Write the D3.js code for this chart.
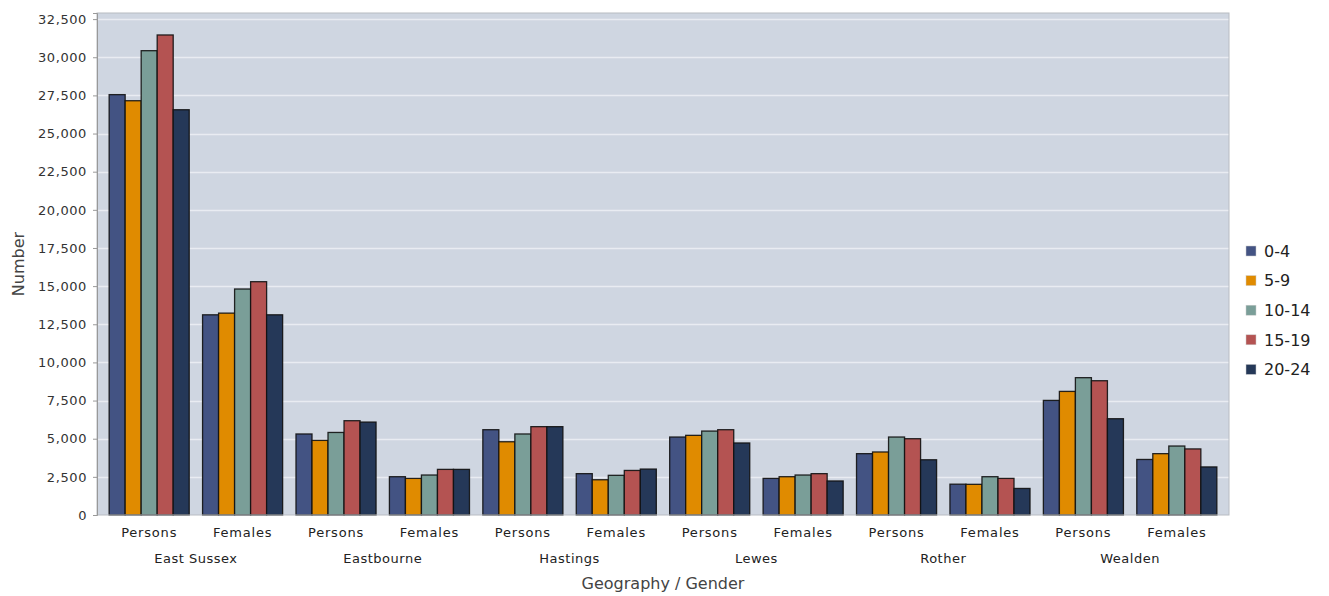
<!DOCTYPE html>
<html>
<head>
<meta charset="utf-8">
<script src="https://cdn.jsdelivr.net/npm/d3@7"></script>
<style>
  html, body { margin: 0; padding: 0; background: #ffffff; }
  svg { display: block; font-family: "DejaVu Sans", sans-serif; }
</style>
</head>
<body>
<svg id="chart" width="1329" height="596"></svg>
<script>
// ---- Data ----
const regions = ["East Sussex", "Eastbourne", "Hastings", "Lewes", "Rother", "Wealden"];
const genders = ["Persons", "Females"];
const ageGroups = ["0-4", "5-9", "10-14", "15-19", "20-24"];
const colors = ["#435383", "#e08b00", "#7a9e98", "#b45352", "#253858"];
const yTicks = [0, 2500, 5000, 7500, 10000, 12500, 15000, 17500, 20000, 22500, 25000, 27500, 30000, 32500];

// values per age group, order: region x gender (Persons, Females)
const age0_4   = [27550, 13120, 5310, 2510, 5590, 2710, 5110, 2400, 4020, 2020, 7510, 3640];
const age5_9   = [27150, 13230, 4890, 2400, 4800, 2310, 5220, 2510, 4130, 2010, 8100, 4020];
const age10_14 = [30430, 14810, 5410, 2620, 5310, 2600, 5500, 2620, 5110, 2510, 9000, 4520];
const age15_19 = [31460, 15290, 6180, 2990, 5790, 2920, 5590, 2710, 5000, 2400, 8800, 4330];
const age20_24 = [26560, 13120, 6090, 2990, 5790, 3010, 4720, 2230, 3620, 1740, 6310, 3150];
const series = [age0_4, age5_9, age10_14, age15_19, age20_24];

// ---- Layout ----
const svg = d3.select("#chart");
const plotLeft = 97, plotRight = 1229, plotTop = 13, plotBottom = 515;

const groups = [];
regions.forEach(r => genders.forEach(g => groups.push({ region: r, gender: g, key: r + "|" + g })));

const x0 = d3.scaleBand().domain(groups.map(d => d.key))
  .range([plotLeft, plotRight]).paddingInner(0.143).paddingOuter(0.13);
const x1 = d3.scaleBand().domain(ageGroups).range([0, x0.bandwidth()]).padding(0);
const y = d3.scaleLinear().domain([0, 32900]).range([plotBottom, plotTop]);

// plot background
svg.append("rect").attr("x", plotLeft).attr("y", plotTop)
  .attr("width", plotRight - plotLeft).attr("height", plotBottom - plotTop)
  .attr("fill", "#cfd6e1");

// gridlines
svg.append("g").selectAll("line").data(yTicks.filter(t => t > 0)).join("line")
  .attr("x1", plotLeft).attr("x2", plotRight)
  .attr("y1", d => Math.round(y(d)) + 0.5).attr("y2", d => Math.round(y(d)) + 0.5)
  .attr("stroke", "#e9ecf2").attr("stroke-width", 1.3);

// bars
const gBars = svg.append("g");
groups.forEach((grp, gi) => {
  const g = gBars.append("g").attr("transform", `translate(${x0(grp.key)},0)`);
  g.selectAll("rect").data(ageGroups.map((a, ai) => ({ a, ai, v: series[ai][gi] }))).join("rect")
    .attr("x", d => x1(d.a))
    .attr("y", d => y(d.v))
    .attr("width", x1.bandwidth())
    .attr("height", d => plotBottom - y(d.v))
    .attr("fill", d => colors[d.ai])
    .attr("stroke", "#111")
    .attr("stroke-opacity", 0.9)
    .attr("stroke-width", 1.3);
});

// plot border (left & bottom axis lines, light frame)
svg.append("rect").attr("x", plotLeft).attr("y", plotTop)
  .attr("width", plotRight - plotLeft).attr("height", plotBottom - plotTop)
  .attr("fill", "none").attr("stroke", "#b8bcc2").attr("stroke-width", 1);

// y axis
const yAxis = d3.axisLeft(y).tickValues(yTicks).tickSize(4).tickPadding(6)
  .tickFormat(d3.format(","));
const gy = svg.append("g").attr("transform", `translate(${plotLeft},0)`).call(yAxis);
gy.select(".domain").attr("stroke", "#999");
gy.selectAll(".tick line").attr("stroke", "#999");
gy.selectAll(".tick text").attr("font-size", 13).attr("fill", "#333")
  .attr("letter-spacing", "0.6px").attr("font-family", "DejaVu Sans, sans-serif");

// x axis - gender labels
const gx = svg.append("g");
gx.selectAll("text.gender").data(groups).join("text")
  .attr("class", "gender")
  .attr("x", d => x0(d.key) + x0.bandwidth() / 2)
  .attr("y", 537)
  .attr("text-anchor", "middle")
  .attr("font-size", 13).attr("letter-spacing", "0.8px").attr("fill", "#222")
  .text(d => d.gender);

// region labels
gx.selectAll("text.region").data(regions).join("text")
  .attr("class", "region")
  .attr("x", r => {
    const a = x0(r + "|Persons"), b = x0(r + "|Females") + x0.bandwidth();
    return (a + b) / 2;
  })
  .attr("y", 563)
  .attr("text-anchor", "middle")
  .attr("font-size", 13).attr("letter-spacing", "0.5px").attr("fill", "#222")
  .text(r => r);

// axis titles
svg.append("text").attr("x", (plotLeft + plotRight) / 2).attr("y", 589)
  .attr("text-anchor", "middle").attr("font-size", 16).attr("fill", "#444")
  .text("Geography / Gender");

svg.append("text").attr("transform", `translate(24,${(plotTop + plotBottom) / 2}) rotate(-90)`)
  .attr("text-anchor", "middle").attr("font-size", 16).attr("fill", "#444")
  .text("Number");

// legend
const legend = svg.append("g").attr("transform", "translate(1246,246)");
const li = legend.selectAll("g").data(ageGroups).join("g")
  .attr("transform", (d, i) => `translate(0,${i * 29.6})`);
li.append("rect").attr("width", 10).attr("height", 10)
  .attr("fill", (d, i) => colors[i]).attr("stroke", "#ccc").attr("stroke-width", 0.5);
li.append("text").attr("x", 18).attr("y", 5).attr("dy", "0.36em")
  .attr("font-size", 16).attr("fill", "#222").text(d => d);
</script>
</body>
</html>
